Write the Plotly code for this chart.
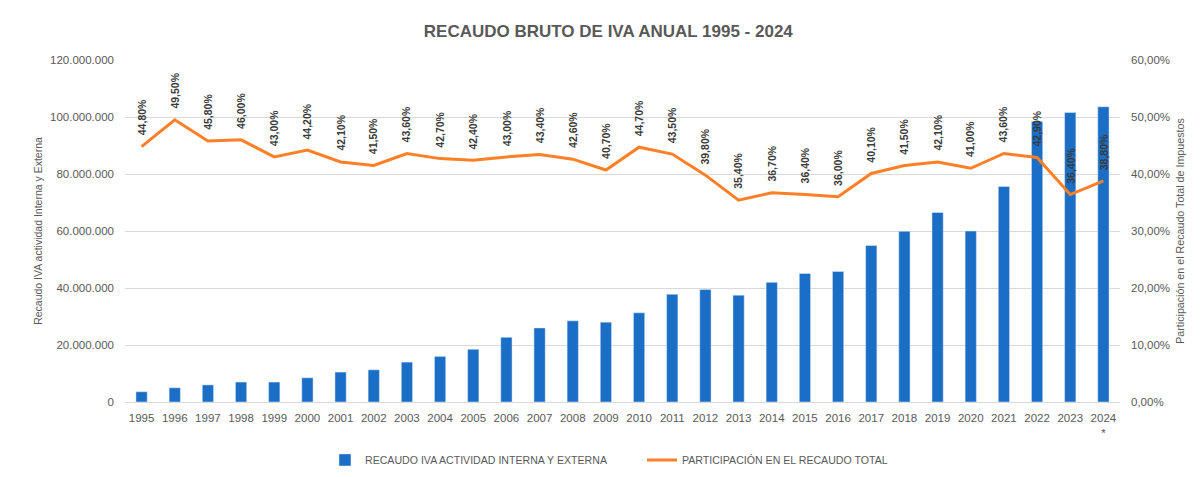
import plotly.graph_objects as go

years = [str(y) for y in range(1995, 2025)]
year_labels = years[:-1] + ["2024<br>*"]
recaudo = [3.6e6, 5.0e6, 6.0e6, 7.0e6, 7.0e6, 8.5e6, 10.5e6, 11.3e6, 14.0e6, 16.0e6,
           18.5e6, 22.7e6, 26.0e6, 28.5e6, 28.0e6, 31.3e6, 37.8e6, 39.5e6, 37.5e6, 42.0e6,
           45.1e6, 45.8e6, 54.9e6, 59.9e6, 66.5e6, 60.0e6, 75.6e6, 98.4e6, 101.6e6, 103.6e6]
participacion = [44.8, 49.5, 45.8, 46.0, 43.0, 44.2, 42.1, 41.5, 43.6, 42.7,
                 42.4, 43.0, 43.4, 42.6, 40.7, 44.7, 43.5, 39.8, 35.4, 36.7,
                 36.4, 36.0, 40.1, 41.5, 42.1, 41.0, 43.6, 42.9, 36.4, 38.8]

FONT = "Liberation Sans"
GREY = "#595959"

fig = go.Figure()
fig.add_trace(go.Bar(
    x=years, y=recaudo, name="RECAUDO IVA ACTIVIDAD INTERNA Y EXTERNA",
    marker=dict(color="#1B6EC6"), yaxis="y",
))
fig.add_trace(go.Scatter(
    x=years, y=[p / 100 for p in participacion], name="PARTICIPACIÓN EN EL RECAUDO TOTAL",
    mode="lines", line=dict(color="#FF7F27", width=3), yaxis="y2",
))

annotations = []
for i, p in enumerate(participacion):
    annotations.append(dict(
        x=i, y=p / 100, xref="x", yref="y2",
        text="<b>" + f"{p:.2f}%".replace(".", ",") + "</b>",
        textangle=-90, showarrow=False, yanchor="middle", xanchor="center",
        yshift=29, font=dict(family=FONT, size=10.5, color="#3a3a3a"),
    ))

fig.update_layout(
    width=1203, height=477,
    margin=dict(l=117, r=91, t=52, b=82),
    paper_bgcolor="white", plot_bgcolor="white",
    separators=",.",
    font=dict(family=FONT, size=11, color=GREY),
    title=dict(text="<b>RECAUDO BRUTO DE IVA ANUAL 1995 - 2024</b>",
               x=0.499, xanchor="center", y=0.952, yanchor="middle",
               font=dict(family=FONT, size=17, color="#595959")),
    bargap=0.66,
    showlegend=True,
    legend=dict(orientation="h", x=0.201, xanchor="left", y=-0.166, yanchor="middle",
                font=dict(family=FONT, size=10.6, color=GREY), itemwidth=30,
                entrywidth=272, traceorder="normal"),
    xaxis=dict(type="category", tickmode="array", tickvals=years, ticktext=year_labels,
               range=[-0.5, 29.5],
               showgrid=False, showline=True, linecolor="#d9d9d9", ticks="",
               ticklabelstandoff=5,
               tickfont=dict(size=11.5, color=GREY)),
    yaxis=dict(range=[0, 120e6], dtick=20e6, tickformat=",.0f", showgrid=True,
               gridcolor="#d9d9d9", zeroline=False, ticks="", ticklabelstandoff=10,
               title=dict(text="Recaudo IVA actividad Interna y Externa",
                          font=dict(size=10.5, color=GREY), standoff=5),
               tickfont=dict(size=11.5, color=GREY)),
    yaxis2=dict(range=[0, 0.6], dtick=0.1, tickformat=".2%", overlaying="y", side="right",
                showgrid=False, zeroline=False, ticks="", ticklabelstandoff=10,
                title=dict(text="Participación en el Recaudo Total de Impuestos",
                           font=dict(size=10.7, color=GREY), standoff=7),
                tickfont=dict(size=11.5, color=GREY)),
    annotations=annotations,
)

fig.write_html("out.html")
